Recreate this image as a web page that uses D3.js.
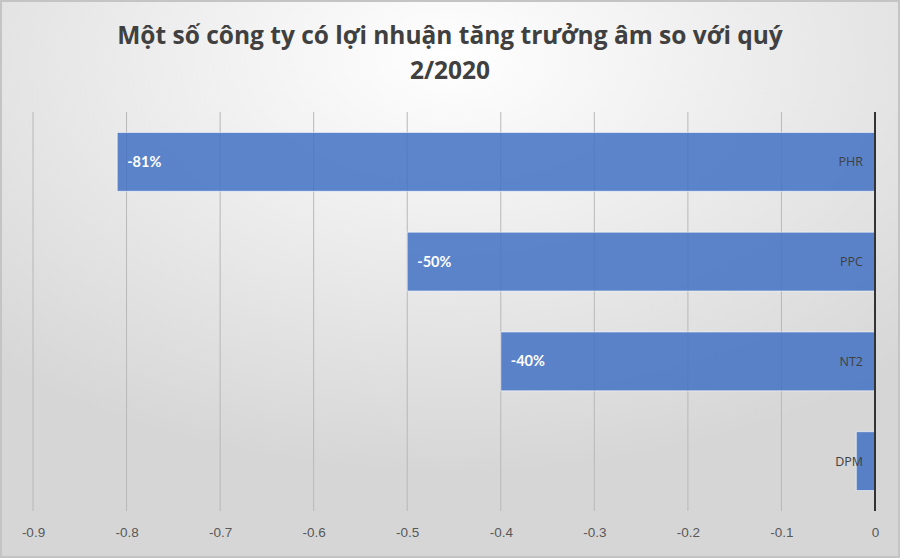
<!DOCTYPE html>
<html lang="vi">
<head>
<meta charset="utf-8">
<title>Lợi nhuận tăng trưởng âm</title>
<script src="https://d3js.org/d3.v7.min.js"></script>
<style>
  html, body { margin: 0; padding: 0; background: #fff; }
  svg { display: block; }
</style>
</head>
<body>
<script>
// data
var companies = ["PHR", "PPC", "NT2", "DPM"];
var growth = [-0.81, -0.50, -0.40, -0.02];
var valueLabels = ["-81%", "-50%", "-40%", ""];
var tickValues = [-0.9, -0.8, -0.7, -0.6, -0.5, -0.4, -0.3, -0.2, -0.1, 0];
var titleLines = ["Một số công ty có lợi nhuận tăng trưởng âm so với quý", "2/2020"];

var w = 900, h = 558;
var margin = {top: 112, right: 25, bottom: 47, left: 33};

var svg = d3.select("body").append("svg")
    .attr("width", w)
    .attr("height", h);

// background gradient
var defs = svg.append("defs");
var grad = defs.append("radialGradient")
    .attr("id", "bg")
    .attr("cx", "50%").attr("cy", "10%")
    .attr("r", "75%");
grad.append("stop").attr("offset", "0%").attr("stop-color", "#ffffff");
grad.append("stop").attr("offset", "100%").attr("stop-color", "#d6d6d6");

svg.append("rect")
    .attr("x", 1).attr("y", 1)
    .attr("width", w - 2).attr("height", h - 2)
    .attr("fill", "url(#bg)")
    .attr("stroke", "#c4c4c4")
    .attr("stroke-width", 2);

// scales
var x = d3.scaleLinear()
    .domain([-0.9, 0])
    .range([margin.left, w - margin.right]);

var y = d3.scaleBand()
    .domain(companies)
    .range([margin.top, h - margin.bottom])
    .paddingInner(0.41)
    .paddingOuter(0.205);

// gridlines
svg.append("g")
    .selectAll("line")
    .data(tickValues.slice(0, -1))
    .enter()
    .append("line")
    .attr("x1", function(d) { return x(d); })
    .attr("x2", function(d) { return x(d); })
    .attr("y1", margin.top)
    .attr("y2", h - margin.bottom)
    .attr("stroke", "#b8b8b8")
    .attr("stroke-width", 1);

// bars
svg.append("g")
    .selectAll("rect")
    .data(growth)
    .enter()
    .append("rect")
    .attr("x", function(d) { return x(d); })
    .attr("y", function(d, i) { return y(companies[i]); })
    .attr("width", function(d) { return x(0) - x(d); })
    .attr("height", y.bandwidth())
    .attr("fill", "#4472C4")
    .attr("fill-opacity", 0.86)
    .attr("stroke", "#ffffff")
    .attr("stroke-opacity", 0.6)
    .attr("stroke-width", 1);

// value labels
svg.append("g")
    .selectAll("text")
    .data(growth)
    .enter()
    .append("text")
    .attr("x", function(d) { return x(d) + 10; })
    .attr("y", function(d, i) { return y(companies[i]) + y.bandwidth() / 2; })
    .attr("dy", "0.35em")
    .attr("fill", "#ffffff")
    .attr("font-family", "Lato, 'Open Sans', sans-serif")
    .attr("font-weight", 700)
    .attr("font-size", 14.5)
    .text(function(d, i) { return valueLabels[i]; });

// category labels, next to the zero line
svg.append("g")
    .selectAll("text")
    .data(companies)
    .enter()
    .append("text")
    .attr("x", x(0) - 12)
    .attr("y", function(d) { return y(d) + y.bandwidth() / 2; })
    .attr("dy", "0.35em")
    .attr("text-anchor", "end")
    .attr("fill", "#404040")
    .attr("font-family", "'Open Sans', sans-serif")
    .attr("font-size", 12.5)
    .text(function(d) { return d; });

// zero line
svg.append("line")
    .attr("x1", x(0)).attr("x2", x(0))
    .attr("y1", margin.top)
    .attr("y2", h - margin.bottom)
    .attr("stroke", "#333333")
    .attr("stroke-width", 2);

// bottom axis labels
var xAxis = d3.axisBottom(x)
    .tickValues(tickValues)
    .tickSize(0)
    .tickPadding(16)
    .tickFormat(function(d) { return d === 0 ? "0" : d3.format(".1f")(d).replace("−", "-"); });

var ax = svg.append("g")
    .attr("transform", "translate(0," + (h - margin.bottom) + ")")
    .call(xAxis);
ax.select(".domain").remove();
ax.selectAll("text")
    .attr("fill", "#595959")
    .attr("font-family", "'Liberation Sans', Arial, sans-serif")
    .attr("font-size", 13.5);

// title
svg.append("g")
    .selectAll("text")
    .data(titleLines)
    .enter()
    .append("text")
    .attr("x", w / 2)
    .attr("y", function(d, i) { return 44 + i * 35; })
    .attr("text-anchor", "middle")
    .attr("fill", "#404040")
    .attr("font-family", "'Open Sans', sans-serif")
    .attr("font-weight", 700)
    .attr("font-size", 24.5)
    .text(function(d) { return d; });
</script>
</body>
</html>
